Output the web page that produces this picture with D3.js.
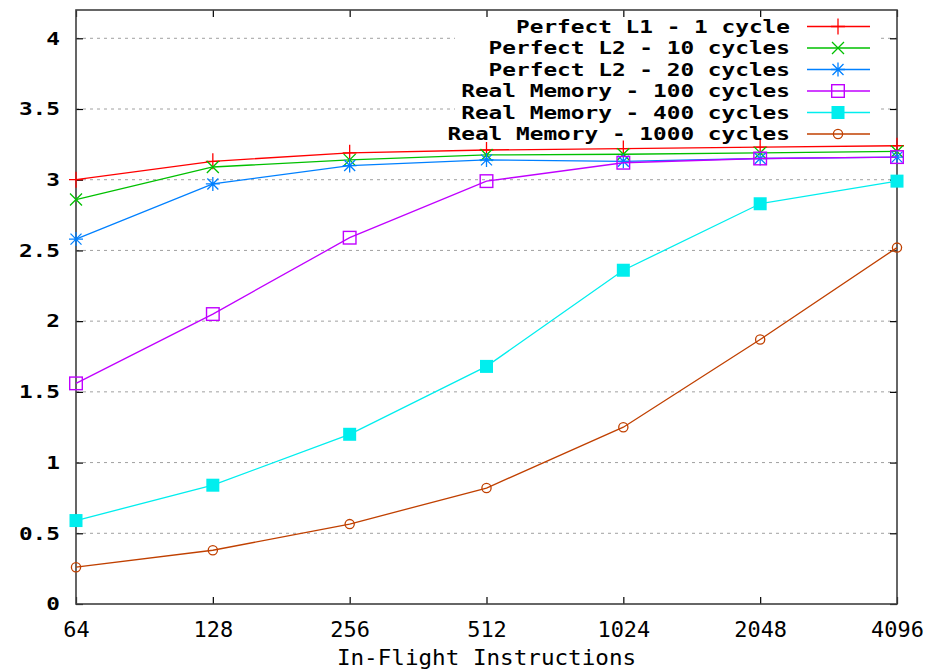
<!DOCTYPE html>
<html>
<head>
<meta charset="utf-8">
<script src="https://cdn.jsdelivr.net/npm/d3@7"></script>
<style>
  html, body { margin: 0; padding: 0; background: #fff; }
  svg { display: block; }
</style>
</head>
<body>
<svg id="chart" width="939" height="669"></svg>
<script>
// In-flight instruction window sizes (x axis)
const windowSizes = [64, 128, 256, 512, 1024, 2048, 4096];
const xTickLabels = ["64", "128", "256", "512", "1024", "2048", "4096"];
const yTickValues = [0, 0.5, 1, 1.5, 2, 2.5, 3, 3.5, 4];
const yTickLabels = ["0", "0.5", "1", "1.5", "2", "2.5", "3", "3.5", "4"];

const seriesNames = [
  "Perfect L1 - 1 cycle",
  "Perfect L2 - 10 cycles",
  "Perfect L2 - 20 cycles",
  "Real Memory - 100 cycles",
  "Real Memory - 400 cycles",
  "Real Memory - 1000 cycles"
];

// IPC per configuration
const perfectL1_1 = [3.00, 3.13, 3.19, 3.21, 3.22, 3.23, 3.24];
const perfectL2_10 = [2.86, 3.09, 3.14, 3.175, 3.18, 3.19, 3.20];
const perfectL2_20 = [2.58, 2.97, 3.10, 3.14, 3.13, 3.15, 3.16];
const realMem_100 = [1.56, 2.05, 2.59, 2.99, 3.12, 3.15, 3.16];
const realMem_400 = [0.59, 0.84, 1.20, 1.68, 2.36, 2.83, 2.99];
const realMem_1000 = [0.26, 0.38, 0.565, 0.82, 1.25, 1.87, 2.52];

const seriesValues = [perfectL1_1, perfectL2_10, perfectL2_20, realMem_100, realMem_400, realMem_1000];
const seriesColors = ["#ff0000", "#00c000", "#0080ff", "#c000ff", "#00eeee", "#c04000"];
const seriesMarkers = ["plus", "cross", "star", "box", "filledBox", "circle"];

const svg = d3.select("#chart");
const plot = { left: 76, right: 897, top: 10, bottom: 604 };

const x = d3.scaleLog().base(2).domain([64, 4096]).range([plot.left, plot.right]);
const y = d3.scaleLinear().domain([0, 4.2]).range([plot.bottom, plot.top]);

const CHAR_W = 13.7;
const boldFont = "'DejaVu Sans Mono', monospace";

// Horizontal dotted grid
svg.append("g")
  .selectAll("line")
  .data(yTickValues.filter(v => v > 0))
  .join("line")
  .attr("x1", plot.left).attr("x2", plot.right)
  .attr("y1", d => y(d)).attr("y2", d => y(d))
  .attr("stroke", "#a0a0a0")
  .attr("stroke-width", 1)
  .attr("stroke-dasharray", "3,4");

// Key background covering the grid
svg.append("rect")
  .attr("x", 455).attr("y", plot.top + 1)
  .attr("width", 426).attr("height", 133)
  .attr("fill", "#fff");

// Axes with inward ticks on all four sides
function styleAxis(g) {
  g.select(".domain").remove();
  g.selectAll(".tick line").attr("stroke", "#000").attr("stroke-width", 1.2);
}

const yLeft = svg.append("g")
  .attr("transform", `translate(${plot.left},0)`)
  .call(d3.axisLeft(y).tickValues(yTickValues)
    .tickFormat((d, i) => yTickLabels[i]).tickSize(-7).tickPadding(16))
  .call(styleAxis);
yLeft.selectAll("text")
  .attr("font-family", boldFont)
  .attr("font-weight", "bold")
  .attr("font-size", 18)
  .attr("fill", "#000")
  .attr("textLength", (d, i) => yTickLabels[i].length * CHAR_W)
  .attr("lengthAdjust", "spacingAndGlyphs");

svg.append("g")
  .attr("transform", `translate(${plot.right},0)`)
  .call(d3.axisRight(y).tickValues(yTickValues).tickFormat("").tickSize(-7))
  .call(styleAxis);

const xBottom = svg.append("g")
  .attr("transform", `translate(0,${plot.bottom})`)
  .call(d3.axisBottom(x).tickValues(windowSizes)
    .tickFormat((d, i) => xTickLabels[i]).tickSize(-7).tickPadding(17))
  .call(styleAxis);
xBottom.selectAll("text")
  .attr("font-family", "'DejaVu Sans Mono', monospace")
  .attr("font-size", 22)
  .attr("fill", "#000")
  .attr("textLength", (d, i) => xTickLabels[i].length * 13.2)
  .attr("lengthAdjust", "spacingAndGlyphs");

svg.append("g")
  .attr("transform", `translate(0,${plot.top})`)
  .call(d3.axisTop(x).tickValues(windowSizes).tickFormat("").tickSize(-7))
  .call(styleAxis);

// Plot frame
svg.append("rect")
  .attr("x", plot.left).attr("y", plot.top)
  .attr("width", plot.right - plot.left).attr("height", plot.bottom - plot.top)
  .attr("fill", "none").attr("stroke", "#404040").attr("stroke-width", 1.6);

// Axis title
svg.append("text")
  .attr("x", (plot.left + plot.right) / 2)
  .attr("y", 665)
  .attr("text-anchor", "middle")
  .attr("font-family", "'DejaVu Sans Mono', monospace")
  .attr("font-size", 22)
  .attr("fill", "#000")
  .attr("textLength", "In-Flight Instructions".length * 13.6)
  .attr("lengthAdjust", "spacingAndGlyphs")
  .text("In-Flight Instructions");

// Point markers
function drawMarker(g, type, cx, cy, color) {
  const s = 7;
  if (type === "plus") {
    g.append("path").attr("d", `M${cx - s},${cy}H${cx + s}M${cx},${cy - s - 1}V${cy + s + 1}`)
      .attr("stroke", color).attr("stroke-width", 1.3).attr("fill", "none");
  } else if (type === "cross") {
    const c = 6;
    g.append("path").attr("d", `M${cx - c},${cy - c}L${cx + c},${cy + c}M${cx - c},${cy + c}L${cx + c},${cy - c}`)
      .attr("stroke", color).attr("stroke-width", 1.3).attr("fill", "none");
  } else if (type === "star") {
    const c = 5.5;
    g.append("path").attr("d",
      `M${cx - s},${cy}H${cx + s}M${cx},${cy - s}V${cy + s}` +
      `M${cx - c},${cy - c}L${cx + c},${cy + c}M${cx - c},${cy + c}L${cx + c},${cy - c}`)
      .attr("stroke", color).attr("stroke-width", 1.3).attr("fill", "none");
  } else if (type === "box") {
    g.append("rect").attr("x", cx - 6.3).attr("y", cy - 6.3).attr("width", 12.6).attr("height", 12.6)
      .attr("stroke", color).attr("stroke-width", 1.4).attr("fill", "none");
  } else if (type === "filledBox") {
    g.append("rect").attr("x", cx - 6.5).attr("y", cy - 6.5).attr("width", 13).attr("height", 13)
      .attr("fill", color);
  } else if (type === "circle") {
    g.append("circle").attr("cx", cx).attr("cy", cy).attr("r", 4.6)
      .attr("stroke", color).attr("stroke-width", 1.3).attr("fill", "none");
  }
}

const line = d3.line().x(d => x(d[0])).y(d => y(d[1]));

seriesValues.forEach((vals, si) => {
  const pts = windowSizes.map((w, i) => [w, vals[i]]);
  const g = svg.append("g");
  g.append("path")
    .attr("d", line(pts))
    .attr("fill", "none")
    .attr("stroke", seriesColors[si])
    .attr("stroke-width", 1.3);
  pts.forEach(p => drawMarker(g, seriesMarkers[si], x(p[0]), y(p[1]), seriesColors[si]));
});

// Key
const keyRowY = [26.5, 48, 69.5, 91, 112.5, 134];
seriesNames.forEach((name, i) => {
  const ky = keyRowY[i];
  svg.append("text")
    .attr("x", 790).attr("y", ky)
    .attr("dy", "0.36em")
    .attr("text-anchor", "end")
    .attr("font-family", boldFont)
    .attr("font-weight", "bold")
    .attr("font-size", 18)
    .attr("fill", "#000")
    .attr("textLength", name.length * CHAR_W)
    .attr("lengthAdjust", "spacingAndGlyphs")
    .text(name);
  const g = svg.append("g");
  g.append("line")
    .attr("x1", 807).attr("x2", 870).attr("y1", ky).attr("y2", ky)
    .attr("stroke", seriesColors[i]).attr("stroke-width", 1.3);
  drawMarker(g, seriesMarkers[i], 838, ky, seriesColors[i]);
});
</script>
</body>
</html>
